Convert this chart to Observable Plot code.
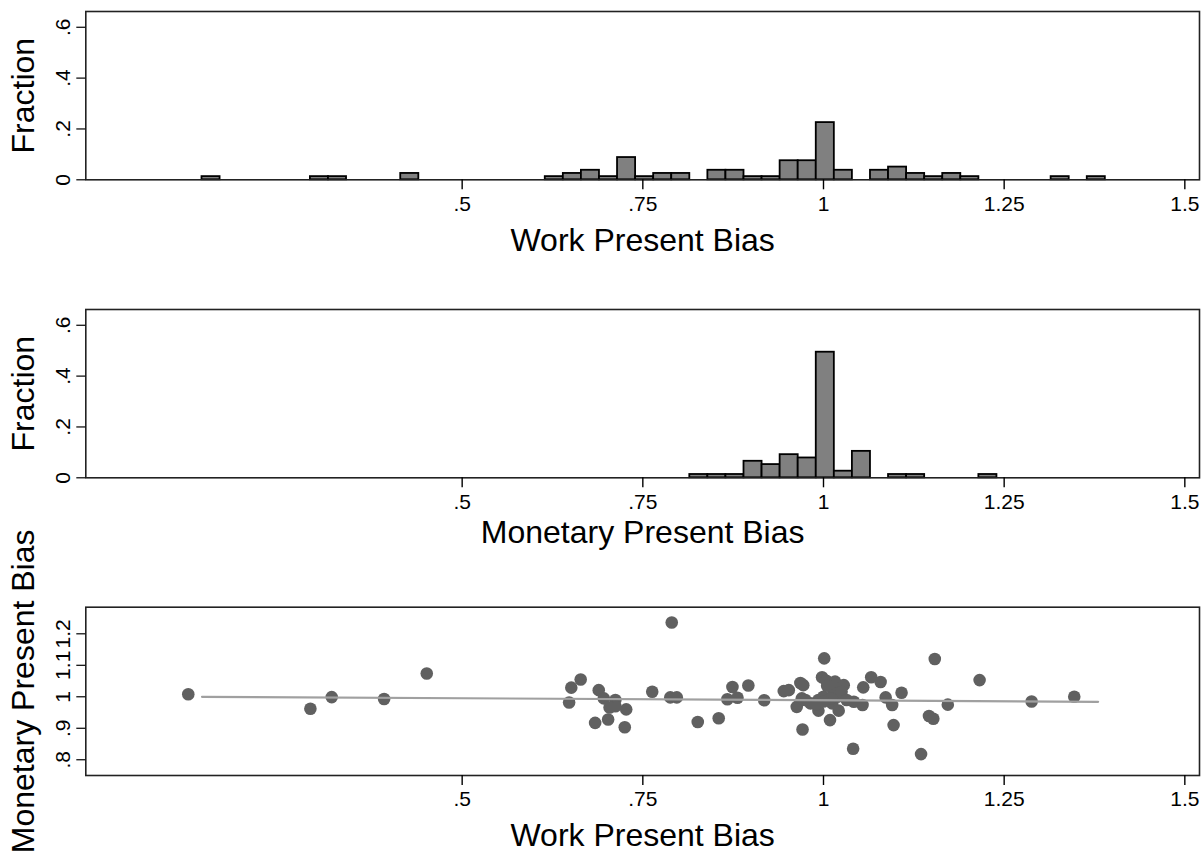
<!DOCTYPE html>
<html><head><meta charset="utf-8">
<script src="https://cdn.jsdelivr.net/npm/d3@7"></script>
<script src="https://cdn.jsdelivr.net/npm/@observablehq/plot@0.6"></script>
<style>
body{margin:0;background:#fff}
#wrap{position:relative;width:1203px;height:860px;background:#fff}
.panel{position:absolute;left:0}
</style>
</head><body><div id="wrap"></div>
<script>
// ---- data ----
const xTicks = [0.5, 0.75, 1, 1.25, 1.5];
const fracTicks = [0, 0.2, 0.4, 0.6];
const monTicks = [0.8, 0.9, 1, 1.1, 1.2];
const binWidth = 0.025;

const workBinStart = [0.14, 0.29, 0.315, 0.415, 0.615, 0.64, 0.665, 0.69, 0.715, 0.74, 0.765, 0.79,
  0.84, 0.865, 0.89, 0.915, 0.94, 0.965, 0.99, 1.015, 1.065, 1.09, 1.115, 1.14, 1.165, 1.19, 1.315, 1.365];
const workFraction = [0.0125, 0.0125, 0.0125, 0.025, 0.0125, 0.025, 0.0375, 0.0125, 0.0875, 0.0125, 0.025, 0.025,
  0.0375, 0.0375, 0.0125, 0.0125, 0.075, 0.075, 0.225, 0.0375, 0.0375, 0.05, 0.025, 0.0125, 0.025, 0.0125, 0.0125, 0.0125];

const monBinStart = [0.815, 0.84, 0.865, 0.89, 0.915, 0.94, 0.965, 0.99, 1.015, 1.04, 1.09, 1.115, 1.215];
const monFraction = [0.013, 0.013, 0.013, 0.065, 0.052, 0.091, 0.078, 0.494, 0.026, 0.104, 0.013, 0.013, 0.013];

const scatterWork = [0.121, 0.290, 0.3195, 0.392, 0.451, 0.648, 0.651, 0.664, 0.684, 0.689,
  0.696, 0.712, 0.712, 0.704, 0.727, 0.702, 0.725, 0.790, 0.763, 0.788, 0.797,
  0.826, 0.855, 0.867, 0.874, 0.881, 0.896, 0.918, 0.945, 0.952, 0.968, 0.972, 0.963, 0.970, 0.971,
  0.982, 0.993, 0.993, 1.001, 0.998, 1.004, 1.009, 1.014, 1.016, 1.012, 1.019, 1.021, 1.028, 1.025,
  1.032, 1.042, 1.041, 1.055, 1.054, 1.066, 1.079, 1.086, 1.095, 1.097, 1.108, 1.135, 1.146, 1.152,
  1.154, 1.172, 1.216, 1.288, 1.347, 0.975, 0.990, 1.000, 1.005, 1.010, 1.000];
const scatterMonetary = [1.008, 0.962, 0.999, 0.993, 1.074, 0.982, 1.029, 1.055, 0.917, 1.021,
  0.995, 0.990, 0.970, 0.966, 0.960, 0.928, 0.903, 1.236, 1.016, 0.998, 0.998,
  0.920, 0.932, 0.992, 1.031, 0.997, 1.036, 0.989, 1.018, 1.021, 1.044, 1.037, 0.968, 0.995, 0.896,
  0.979, 0.990, 0.956, 1.122, 1.062, 1.051, 0.926, 1.021, 1.048, 0.979, 1.000, 0.956, 1.037, 1.016,
  0.990, 0.984, 0.835, 1.030, 0.974, 1.062, 1.047, 0.998, 0.974, 0.910, 1.013, 0.818, 0.939, 0.930,
  1.120, 0.975, 1.053, 0.985, 1.000, 0.990, 0.975, 1.000, 1.035, 0.995, 0.985];

const fitWork = [0.14, 1.38];
const fitMonetary = [1.0, 0.984];

const titleWork = "Work Present Bias";
const titleMon = "Monetary Present Bias";
const titleFrac = "Fraction";

// ---- rendering ----
const W = 1203;
const FONT = '"Liberation Sans", Arial, Helvetica, sans-serif';
const xDomain = [-0.0208, 1.5203];
const fmt = d => d === 0 ? "0" : String(d).replace(/^0\./, ".");

function panel({top, height, mTop, mBottom, yDomain, yTicks, marks, xTitle, yTitle, xTitleDy}) {
  const svg = Plot.plot({
    width: W, height,
    marginLeft: 85.3, marginRight: 4, marginTop: mTop, marginBottom: mBottom,
    style: {background: "transparent", overflow: "visible", fontFamily: FONT, color: "#000"},
    x: {domain: xDomain},
    y: {domain: yDomain},
    marks: [
      ...marks,
      Plot.frame({stroke: "#222", strokeWidth: 1.6}),
      Plot.axisX(xTicks, {tickSize: 10, tickPadding: 6, fontSize: 21, tickFormat: fmt, label: null, stroke: "#000", strokeWidth: 1.4, fill: "#000"}),
      Plot.axisY(yTicks, {tickSize: 9, tickFormat: () => "", label: null, stroke: "#000", strokeWidth: 1.2}),
      Plot.text(yTicks, {y: d => d, text: fmt, frameAnchor: "left", rotate: -90, dx: -16, textAnchor: "middle", lineAnchor: "bottom", fontSize: 21, fill: "#000"}),
      Plot.text([xTitle], {text: d => d, frameAnchor: "bottom", dy: xTitleDy, lineAnchor: "middle", fontSize: 32, fill: "#000"}),
      Plot.text([yTitle], {text: d => d, frameAnchor: "left", dx: -62, rotate: -90, textAnchor: "middle", lineAnchor: "middle", fontSize: 32, fill: "#000"})
    ]
  });
  const div = document.createElement("div");
  div.className = "panel";
  div.style.top = top + "px";
  div.appendChild(svg);
  document.getElementById("wrap").appendChild(div);
}

const bars = (starts, vals) => Plot.rectY(
  starts.map((s, i) => ({x1: s, x2: s + binWidth, y: vals[i]})),
  {x1: "x1", x2: "x2", y: "y", fill: "#808080", stroke: "#000", strokeWidth: 1.8}
);

panel({top: 0, height: 270, mTop: 11, mBottom: 90.7, yDomain: [0, 0.662], yTicks: fracTicks,
  marks: [bars(workBinStart, workFraction)], xTitle: titleWork, yTitle: titleFrac, xTitleDy: 60.7});

panel({top: 290, height: 270, mTop: 19, mBottom: 82.7, yDomain: [0, 0.662], yTicks: fracTicks,
  marks: [bars(monBinStart, monFraction)], xTitle: titleMon, yTitle: titleFrac, xTitleDy: 54.7});

const pts = scatterWork.map((x, i) => ({x, y: scatterMonetary[i]}));
const fit = fitWork.map((x, i) => ({x, y: fitMonetary[i]}));
panel({top: 560, height: 300, mTop: 46.7, mBottom: 85, yDomain: [0.750, 1.2845], yTicks: monTicks,
  marks: [
    Plot.dot(pts, {x: "x", y: "y", r: 6.3, fill: "#606060", stroke: "none"}),
    Plot.line(fit, {x: "x", y: "y", stroke: "#a0a0a0", strokeWidth: 2.2})
  ], xTitle: titleWork, yTitle: titleMon, xTitleDy: 60});
</script>
</body></html>
